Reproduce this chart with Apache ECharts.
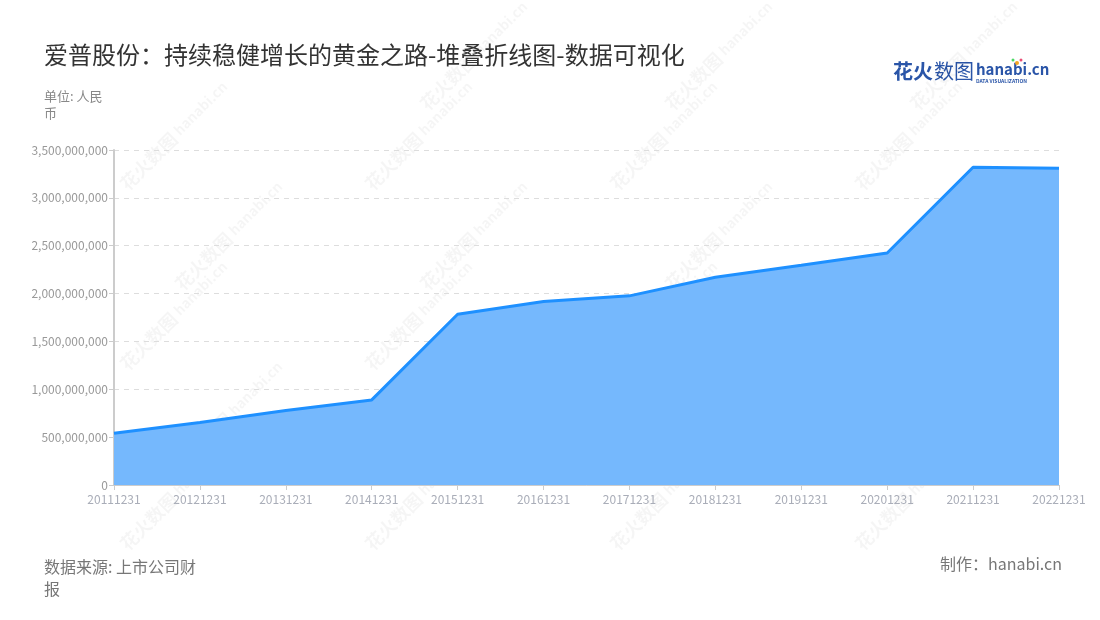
<!DOCTYPE html>
<html>
<head>
<meta charset="utf-8">
<script src="https://cdn.jsdelivr.net/npm/echarts@6/dist/echarts.min.js"></script>
<style>html,body{margin:0;padding:0;background:#fff}#c{width:1100px;height:620px}</style>
</head>
<body>
<div id="c"></div>
<script>
const categories = ['20111231','20121231','20131231','20141231','20151231','20161231','20171231','20181231','20191231','20201231','20211231','20221231'];
const values = [541700000, 653000000, 778000000, 889000000, 1784000000, 1917000000, 1976000000, 2170000000, 2295000000, 2424000000, 3320000000, 3309000000];
const yTicks = { min: 0, max: 3500000000, interval: 500000000 };

const font = '"Noto Sans CJK SC","Noto Sans",sans-serif';
const wmPositions = [[150,160],[395,160],[640,160],[885,160],[450,80],[695,80],[940,80],[150,340],[395,340],[640,340],[885,340],[150,520],[395,520],[640,520],[885,520],[205,260],[450,260],[695,260],[940,260],[205,440],[450,440],[695,440],[940,440]];
const wm = [];
wmPositions.forEach(p => {
  wm.push({
    type: 'group', x: p[0], y: p[1], rotation: Math.PI / 4, silent: true, z: 100,
    children: [
      { type: 'text', style: { text: '花火数图', font: 'bold 18px ' + font, fill: 'rgba(0,0,0,0.04)', x: -38, y: -9 } },
      { type: 'text', style: { text: 'hanabi.cn', font: 'bold 14px ' + font, fill: 'rgba(0,0,0,0.04)', x: 38, y: -8 } }
    ]
  });
});

const chart = echarts.init(document.getElementById('c'), null, { renderer: 'canvas' });
chart.setOption({
  backgroundColor: '#fff',
  animation: false,
  title: {
    text: '爱普股份：持续稳健增长的黄金之路-堆叠折线图-数据可视化',
    left: 39, top: 38,
    textStyle: { fontFamily: font, fontSize: 24, fontWeight: 'normal', color: '#333' }
  },
  grid: { left: 114, right: 41, top: 150, bottom: 135, containLabel: false },
  xAxis: {
    type: 'category', data: categories, boundaryGap: false,
    axisLine: { show: true, lineStyle: { color: '#ccc' } },
    axisTick: { show: true, alignWithLabel: true, lineStyle: { color: '#ccc' } },
    axisLabel: { color: '#a9adb8', fontSize: 12, fontFamily: font, interval: 0, margin: 8 },
    splitLine: { show: false }
  },
  yAxis: {
    type: 'value', min: yTicks.min, max: yTicks.max, interval: yTicks.interval,
    axisLine: { show: true, lineStyle: { color: '#ccc', width: 2 } },
    axisTick: { show: true, lineStyle: { color: '#ccc' } },
    axisLabel: {
      color: '#999', fontSize: 12, fontFamily: font, margin: 6,
      formatter: v => v.toLocaleString('en-US')
    },
    splitLine: { show: true, lineStyle: { color: '#ddd', type: [5, 5] } }
  },
  series: [{
    type: 'line', data: values, stack: 'total', symbol: 'none',
    lineStyle: { color: '#1e90ff', width: 3 },
    itemStyle: { color: '#1e90ff' },
    areaStyle: { color: '#75b8fd', opacity: 1 }
  }],
  graphic: [
    { type: 'text', left: 44, top: 88, style: { text: '单位: 人民\n币', font: '13px ' + font, fill: '#888', lineHeight: 17 } },
    { type: 'text', left: 44, top: 556, style: { text: '数据来源: 上市公司财\n报', font: '16px ' + font, fill: '#777', lineHeight: 22 } },
    { type: 'text', right: 38, top: 556, style: { text: '制作：hanabi.cn', font: '16px ' + font, fill: '#777' } },
    { type: 'text', left: 893, top: 61, style: { text: '花火', font: 'bold 20px ' + font, fill: '#2a55a8' } },
    { type: 'text', left: 934, top: 61, style: { text: '数图', font: '20px ' + font, fill: '#2a55a8' } },
    { type: 'text', left: 976, top: 62, style: { text: 'hanabi.cn', font: 'bold 15px ' + font, fill: '#2a55a8' } },
    { type: 'text', left: 976, top: 79, style: { text: 'DATA VISUALIZATION', font: 'bold 5px ' + font, fill: '#2a55a8' } },
    { type: 'circle', shape: { cx: 1017, cy: 63, r: 2 }, style: { fill: '#f5a623' } },
    { type: 'circle', shape: { cx: 1021, cy: 60, r: 1.5 }, style: { fill: '#e94e77' } },
    { type: 'circle', shape: { cx: 1013, cy: 60, r: 1.5 }, style: { fill: '#4cd964' } }
  ].concat(wm)
});
</script>
</body>
</html>
